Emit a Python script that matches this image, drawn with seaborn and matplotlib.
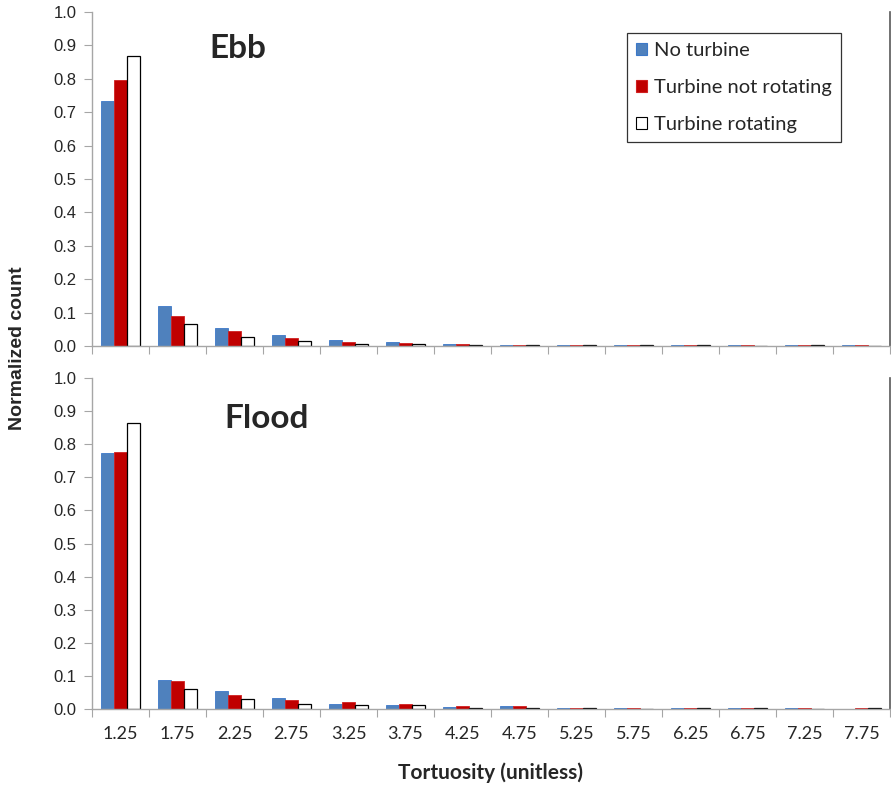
import numpy as np
import pandas as pd
import seaborn as sns
import matplotlib.pyplot as plt
from matplotlib.patches import Patch

sns.set_style('white')
plt.rcParams['font.family'] = ['Lato', 'DejaVu Sans']

tortuosity = ['1.25', '1.75', '2.25', '2.75', '3.25', '3.75', '4.25',
              '4.75', '5.25', '5.75', '6.25', '6.75', '7.25', '7.75']
conditions = ['No turbine', 'Turbine not rotating', 'Turbine rotating']

ebb_none = [0.734, 0.121, 0.053, 0.033, 0.018, 0.012, 0.006, 0.003, 0.002, 0.002, 0.002, 0.002, 0.002, 0.002]
ebb_still = [0.796, 0.089, 0.045, 0.024, 0.013, 0.010, 0.007, 0.003, 0.002, 0.002, 0.002, 0.002, 0.002, 0.002]
ebb_rot = [0.869, 0.065, 0.026, 0.015, 0.007, 0.005, 0.003, 0.003, 0.002, 0.002, 0.002, 0.0, 0.002, 0.0]

flood_none = [0.773, 0.088, 0.055, 0.032, 0.015, 0.011, 0.007, 0.008, 0.003, 0.003, 0.003, 0.003, 0.003, 0.0]
flood_still = [0.776, 0.085, 0.041, 0.026, 0.021, 0.014, 0.008, 0.008, 0.003, 0.003, 0.003, 0.003, 0.003, 0.003]
flood_rot = [0.864, 0.060, 0.029, 0.015, 0.012, 0.011, 0.004, 0.004, 0.003, 0.0, 0.003, 0.003, 0.0, 0.003]

colors = {'No turbine': '#4F81BD', 'Turbine not rotating': '#C00000', 'Turbine rotating': 'white'}
edges = ['#3C78C8', '#D02020', 'black']


def long_df(a, b, c):
    return pd.DataFrame({
        'tortuosity': tortuosity * 3,
        'count': a + b + c,
        'condition': np.repeat(conditions, len(tortuosity)),
    })


fig = plt.figure(figsize=(8.91, 7.86), dpi=100)
ax1 = fig.add_axes([92 / 891, 1 - 346 / 786, 798 / 891, 334 / 786])
ax2 = fig.add_axes([92 / 891, 1 - 709 / 786, 798 / 891, 331 / 786])

panels = [(ax1, long_df(ebb_none, ebb_still, ebb_rot), 'Ebb', (0.147, 0.89)),
          (ax2, long_df(flood_none, flood_still, flood_rot), 'Flood', (0.166, 0.877))]

for ax, df, title, pos in panels:
    sns.barplot(data=df, x='tortuosity', y='count', hue='condition', order=tortuosity,
                hue_order=conditions, palette=colors, width=0.67, saturation=1,
                legend=False, ax=ax)
    for cont, ec in zip(ax.containers, edges):
        for bar in cont:
            bar.set_edgecolor(ec)
            bar.set_linewidth(0.9 if ec == 'black' else 0.6)
    ax.set_xlim(-0.5, len(tortuosity) - 0.5)
    ax.set_ylim(0, 1.0)
    ax.set_yticks(np.arange(0, 1.01, 0.1))
    ax.set_yticklabels([f'{v:.1f}' for v in np.arange(0, 1.01, 0.1)], fontsize=12,
                       family=['Liberation Sans', 'DejaVu Sans'], color='#262626')
    ax.set_xticks(np.arange(len(tortuosity) + 1) - 0.5)
    ax.set_xticklabels([])
    ax.set_xticks(np.arange(len(tortuosity)), minor=True)
    ax.tick_params(axis='x', which='major', length=6, color='#A6A6A6', direction='out', bottom=True)
    ax.tick_params(axis='x', which='minor', length=0, labelsize=13, pad=12)
    ax.tick_params(axis='y', length=6, color='#A6A6A6', direction='out', left=True, pad=5)
    ax.set_xlabel('')
    ax.set_ylabel('')
    for s in ['left', 'bottom']:
        ax.spines[s].set_color('#A6A6A6')
        ax.spines[s].set_linewidth(1.0)
    ax.spines['top'].set_visible(False)
    ax.spines['right'].set_color('#595959')
    ax.spines['right'].set_linewidth(1.2)
    ax.text(pos[0], pos[1], title, transform=ax.transAxes, fontsize=24,
            fontweight='bold', ha='left', va='center')

ax2.set_xticklabels(tortuosity, minor=True, color='#262626')
ax2.set_xlabel('Tortuosity (unitless)', fontsize=15, fontweight='bold', labelpad=15)
fig.text(18 / 891, 1 - 348 / 786, 'Normalized count', rotation=90, fontsize=14,
         fontweight='bold', family=['Liberation Sans', 'DejaVu Sans'],
         ha='center', va='center')

handles = [Patch(facecolor=colors[c], edgecolor=e, linewidth=0.8) for c, e in zip(conditions, edges)]
leg = ax1.legend(handles, conditions, loc='upper left', bbox_to_anchor=(0.670, 0.937),
                 fontsize=14.5, frameon=True, fancybox=False, handlelength=0.55, handleheight=0.55,
                 handletextpad=0.35, labelspacing=1.0, borderpad=0.45, borderaxespad=0)
leg.get_frame().set_edgecolor('black')
leg.get_frame().set_linewidth(0.9)

fig.savefig('out.png', dpi=100)
